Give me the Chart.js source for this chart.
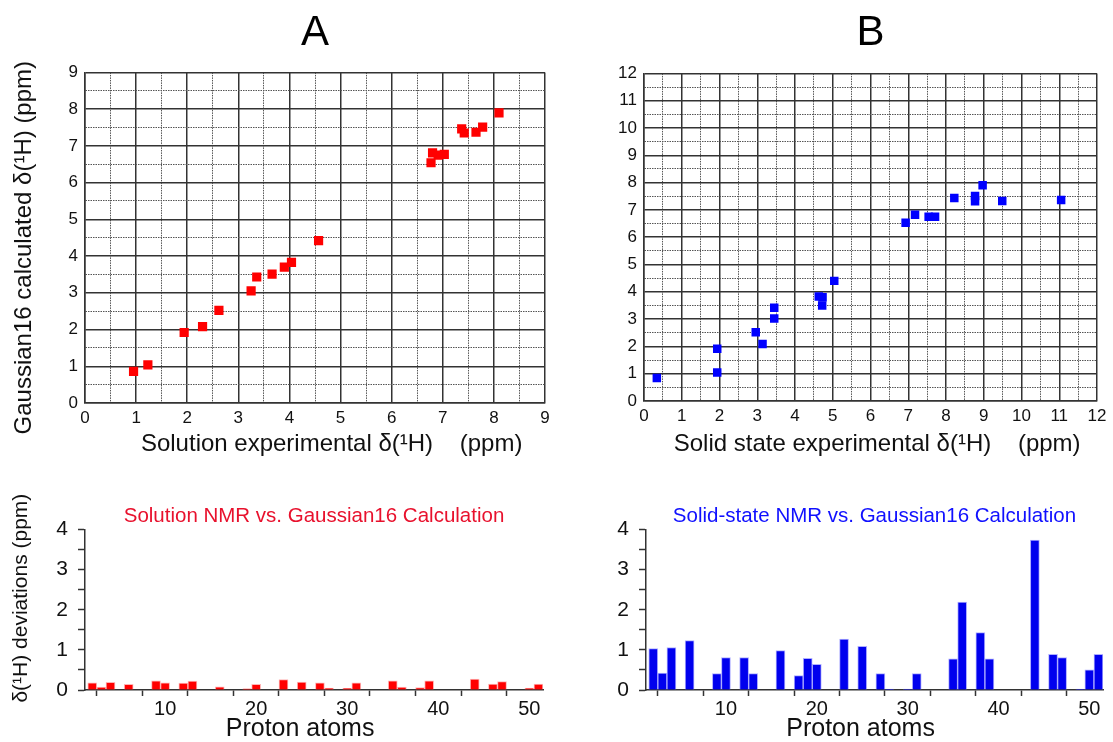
<!DOCTYPE html>
<html>
<head>
<meta charset="utf-8">
<title>NMR vs Gaussian16</title>
<script src="https://cdn.jsdelivr.net/npm/chart.js@4.4.0/dist/chart.umd.min.js"></script>
<style>
  html, body { margin: 0; padding: 0; background: #fff; }
  body { width: 1113px; height: 742px; position: relative; overflow: hidden; }
  .box { position: absolute; }
  #boxA    { left: 0;     top: 0;     width: 560px; height: 470px; }
  #boxB    { left: 560px; top: 0;     width: 553px; height: 470px; }
  #boxDevA { left: 0;     top: 470px; width: 560px; height: 272px; }
  #boxDevB { left: 560px; top: 470px; width: 553px; height: 272px; }
</style>
</head>
<body>
<div class="box" id="boxA"><canvas id="scatterA"></canvas></div>
<div class="box" id="boxB"><canvas id="scatterB"></canvas></div>
<div class="box" id="boxDevA"><canvas id="devA"></canvas></div>
<div class="box" id="boxDevB"><canvas id="devB"></canvas></div>
<script>
// =======================
// Data: A, solution NMR vs calculated
// =======================
const solutionExp  = [0.95, 1.23, 1.94, 2.30, 2.62, 3.25, 3.36, 3.66, 3.90, 4.04, 4.57, 6.77, 6.80, 6.91, 7.03, 7.37, 7.42, 7.65, 7.78, 8.10];
const solutionCalc = [0.86, 1.04, 1.92, 2.08, 2.52, 3.05, 3.43, 3.51, 3.70, 3.83, 4.42, 6.54, 6.81, 6.75, 6.77, 7.46, 7.35, 7.37, 7.51, 7.90];

// =======================
// Data: B, solid state NMR vs calculated
// =======================
const solidExp  = [0.34, 1.94, 1.94, 2.96, 3.14, 3.45, 3.45, 4.63, 4.73, 4.72, 5.04, 6.93, 7.18, 7.54, 7.71, 8.22, 8.77, 8.77, 8.97, 9.49, 11.05];
const solidCalc = [0.84, 1.91, 1.04, 2.52, 2.09, 3.42, 3.02, 3.83, 3.80, 3.50, 4.40, 6.53, 6.82, 6.75, 6.75, 7.44, 7.51, 7.32, 7.90, 7.33, 7.36];

// =======================
// Data: deviations per proton atom
// =======================
const solutionAtoms = [2, 3, 4, 6, 9, 10, 12, 13, 16, 19, 20, 23, 25, 27, 28, 30, 31, 35, 36, 38, 39, 44, 46, 47, 50, 51];
const solutionDev   = [0.18, 0.07, 0.19, 0.14, 0.23, 0.18, 0.17, 0.22, 0.08, 0.03, 0.14, 0.26, 0.20, 0.18, 0.05, 0.04, 0.18, 0.23, 0.07, 0.06, 0.23, 0.27, 0.15, 0.21, 0.05, 0.15];
const solidAtoms = [2, 3, 4, 6, 9, 10, 12, 13, 16, 18, 19, 20, 23, 25, 27, 28, 30, 31, 35, 36, 38, 39, 44, 46, 47, 49, 50, 51];
const solidDev   = [1.03, 0.42, 1.06, 1.23, 0.41, 0.81, 0.81, 0.41, 0.98, 0.36, 0.79, 0.64, 1.27, 1.09, 0.41, 0.02, 0.02, 0.41, 0.78, 2.19, 1.43, 0.78, 3.74, 0.89, 0.81, 0.02, 0.50, 0.89];
const atomTicks  = [5, 10, 15, 20, 25, 30, 35, 40, 45, 50];

const SOLUTION_TITLE = "Solution NMR vs. Gaussian16 Calculation";
const SOLID_TITLE = "Solid-state NMR vs. Gaussian16 Calculation";

Chart.defaults.font.family = "'Liberation Sans', Arial, sans-serif";
Chart.defaults.color = "#111";
Chart.defaults.animation = false;

const toPoints = (xs, ys) => xs.map((x, i) => ({ x: x, y: ys[i] }));
const intLabel = v => Number.isInteger(v) ? v : "";
const isMajor = c => c.tick && Number.isInteger(c.tick.value);

// =======================
// Scatter panel (top)
// =======================
function gridScale(max, axisSize, isX, title) {
  const s = {
    type: "linear", min: 0, max: max,
    ticks: { stepSize: 0.5, autoSkip: false, maxRotation: 0, padding: isX ? 5 : 7, font: { size: 17 }, color: "#111", callback: intLabel },
    grid: {
      drawTicks: false,
      color: c => isMajor(c) ? "#333" : "#555",
      lineWidth: c => isMajor(c) ? 1.5 : 1
    },
    border: { color: "#333", width: 1.5, dash: c => c.tick && !Number.isInteger(c.tick.value) ? [1.5, 1] : [] },
    afterFit: sc => { if (isX) sc.height = axisSize; else sc.width = axisSize; }
  };
  if (title) {
    s.title = { display: true, text: title, color: "#111", font: { size: 24 }, padding: isX ? { top: 0, bottom: 11 } : { top: 10, bottom: 0 } };
  }
  return s;
}

function makeScatter(id, xs, ys, color, size, max, heading, xTitle, yTitle, layout) {
  new Chart(document.getElementById(id), {
    type: "scatter",
    data: { datasets: [{ data: toPoints(xs, ys), pointStyle: "rect", pointRadius: size, pointHoverRadius: size, backgroundColor: color, borderColor: color, borderWidth: 0 }] },
    options: {
      responsive: true, maintainAspectRatio: false,
      layout: { padding: { left: 0, right: layout.right, top: 0, bottom: 0 } },
      plugins: {
        legend: { display: false }, tooltip: { enabled: false },
        title: { display: true, text: heading, fullSize: false, color: "#000", font: { size: 42, weight: "normal" }, padding: { top: 8, bottom: layout.titleBottom } }
      },
      scales: {
        x: gridScale(max, layout.xh, true, xTitle),
        y: gridScale(max, layout.yw, false, yTitle)
      }
    }
  });
}

makeScatter("scatterA", solutionExp, solutionCalc, "#ff0000", 6.5, 9, "A",
  "     Solution experimental \u03b4(\u00b9H)    (ppm)", "Gaussian16 calculated \u03b4(\u00b9H) (ppm)   ",
  { right: 15, xh: 67, yw: 85, titleBottom: 14 });
makeScatter("scatterB", solidExp, solidCalc, "#0000ff", 6, 12, "B",
  "  Solid state experimental \u03b4(\u00b9H)    (ppm)", null,
  { right: 16, xh: 69, yw: 84, titleBottom: 15 });

// =======================
// Deviation bar panels (bottom)
// =======================
function makeDev(id, atoms, dev, fill, edge, titleColor, heading, yTitle, layout) {
  new Chart(document.getElementById(id), {
    type: "bar",
    data: { datasets: [{ data: toPoints(atoms, dev), backgroundColor: fill, borderColor: edge, borderWidth: 1, barThickness: 9 }] },
    options: {
      responsive: true, maintainAspectRatio: false,
      layout: { padding: { left: 0, right: layout.right, top: 0, bottom: 0 } },
      plugins: {
        legend: { display: false }, tooltip: { enabled: false },
        title: { display: true, text: heading, fullSize: false, color: titleColor, font: { size: 20.5, weight: "normal" }, padding: { top: 34, bottom: 1 } }
      },
      scales: {
        x: {
          type: "linear", min: 1.2, max: 51.5, offset: false,
          afterBuildTicks: sc => { sc.ticks = atomTicks.map(v => ({ value: v })); },
          ticks: { autoSkip: false, maxRotation: 0, padding: 1, font: { size: 20 }, color: "#111", callback: v => v % 10 === 0 ? v : "" },
          grid: { drawOnChartArea: false, drawTicks: true, tickLength: 6, tickColor: "#333", tickWidth: 1.5 },
          border: { color: "#333", width: 1.5 },
          title: { display: true, text: "Proton atoms    ", color: "#111", font: { size: 25, lineHeight: 1 }, padding: { top: 0, bottom: 0 } },
          afterFit: sc => { sc.height = 52; }
        },
        y: {
          type: "linear", min: 0, max: 4,
          ticks: { stepSize: 0.5, autoSkip: false, padding: 10, font: { size: 21 }, color: "#111", callback: intLabel },
          grid: { drawOnChartArea: false, drawTicks: true, tickLength: 7, tickColor: "#333", tickWidth: 1.5 },
          border: { color: "#333", width: 1.5 },
          title: { display: !!yTitle, text: yTitle || "", color: "#111", font: { size: 21 }, padding: { top: 9, bottom: 0 } },
          afterFit: sc => { sc.width = layout.yw; }
        }
      }
    }
  });
}

makeDev("devA", solutionAtoms, solutionDev, "#ff0000", "rgba(255,120,120,0.55)", "#e8112d", SOLUTION_TITLE,
  "    \u03b4(\u00b9H) deviations (ppm)", { right: 17, yw: 85 });
makeDev("devB", solidAtoms, solidDev, "#0000ee", "rgba(140,140,255,0.7)", "#1010ff", SOLID_TITLE,
  null, { right: 10, yw: 86 });
</script>
</body>
</html>
